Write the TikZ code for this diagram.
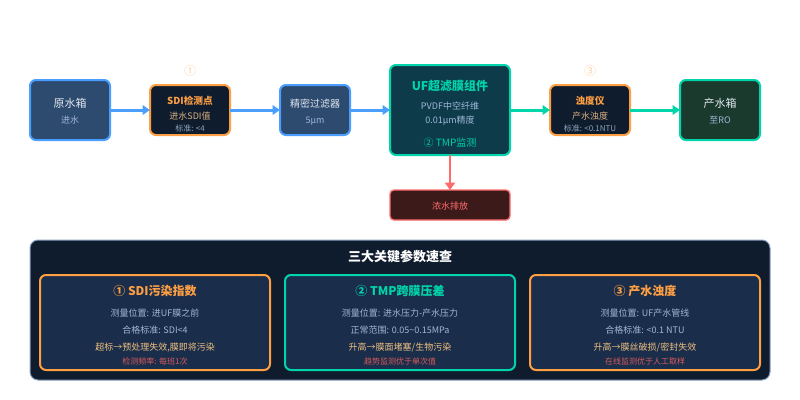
\documentclass[tikz,border=0pt]{standalone}
\usepackage{fontspec}
\setmainfont{Noto Sans CJK SC}
\usetikzlibrary{arrows.meta}
\definecolor{cblue}{HTML}{4A9EFF}
\definecolor{corange}{HTML}{FF9F43}
\definecolor{cgreen}{HTML}{00D4AA}
\definecolor{cred}{HTML}{FF6B6B}
\definecolor{fblue}{HTML}{2D4A6F}
\definecolor{fdark}{HTML}{0F1C2E}
\definecolor{fteal}{HTML}{0D3B4A}
\definecolor{fgreen}{HTML}{1A3A2E}
\definecolor{fred}{HTML}{3D1A1A}
\definecolor{fcard}{HTML}{1A2D4A}
\definecolor{tlight}{HTML}{E0E6EE}
\definecolor{tsoft}{HTML}{A0B8D8}
\definecolor{tgrey}{HTML}{8FA3BA}
\definecolor{twarm}{HTML}{F0C080}
\definecolor{tdim}{HTML}{D8B080}
\definecolor{tpanel}{HTML}{8AA0C0}
\tikzset{
  x=0.75pt,y=-0.75pt,
  boxn/.style={draw,rounded corners=4.5pt,line width=1.5pt,minimum width=#1*0.75pt,inner sep=0pt,outer sep=0pt},
  txt/.style={inner sep=0pt,text height=0.78em,text depth=0.1em,align=center},
  flow/.style={line width=2.25pt,-{Triangle[length=5.5pt,width=7pt]}},
  fs/.style={font=\fontsize{#1pt}{#1pt}\selectfont},
  fb/.style={font=\bfseries\fontsize{#1pt}{#1pt}\selectfont},
}
\begin{document}
\begin{tikzpicture}
\useasboundingbox[fill=white] (0,0) rectangle (800,400);
% flow nodes
\node[boxn=80,minimum height=45pt,fill=fblue,draw=cblue] (raw) at (70,110) {};
\node[boxn=80,minimum height=37.5pt,fill=fdark,draw=corange] (sdi) at (190,110) {};
\node[boxn=70,minimum height=37.5pt,fill=fblue,draw=cblue] (fine) at (315,110) {};
\node[boxn=120,minimum height=67.5pt,fill=fteal,draw=cgreen] (uf) at (450,110) {};
\node[boxn=80,minimum height=37.5pt,fill=fdark,draw=corange] (turb) at (590,110) {};
\node[boxn=80,minimum height=45pt,fill=fgreen,draw=cgreen] (prod) at (720,110) {};
\node[boxn=120,minimum height=22.5pt,line width=1pt,rounded corners=3pt,fill=fred,draw=cred] (conc) at (450,205) {};
% connectors
\draw[flow,cblue] (raw.east) -- (sdi.west);
\draw[flow,cblue] (sdi.east) -- (fine.west);
\draw[flow,cblue] (fine.east) -- (uf.west);
\draw[flow,cgreen] (uf.east) -- (turb.west);
\draw[flow,cgreen] (turb.east) -- (prod.west);
\draw[line width=1.5pt,cred,-{Triangle[length=5.5pt,width=7.5pt]}] (uf.south) -- (conc.north);
% flow texts
\node[txt,fs=8.25,text=tlight] (t1) at (70,103) {原水箱};
\node[txt,fs=6.75,text=tsoft] (t2) at (70,119) {进水};
\node[txt,fs=9,text=corange!45] (t3) at (190,71) {①};
\node[txt,fb=7.25,text=corange] (t4) at (190,100) {SDI检测点};
\node[txt,fs=6.75,text=tdim] (t5) at (190,115) {进水SDI值};
\node[txt,fs=6,text=tgrey] (t6) at (190,127) {标准: <4};
\node[txt,fs=7.5,text=tlight] (t7) at (315,103) {精密过滤器};
\node[txt,fs=6.75,text=tsoft] (t8) at (315,119) {5μm};
\node[txt,fb=9,text=cgreen] (t9) at (450,86) {UF超滤膜组件};
\node[txt,fs=6.75,text=tsoft] (t10) at (450,105) {PVDF中空纤维};
\node[txt,fs=6.75,text=tsoft] (t11) at (450,119) {0.01μm精度};
\node[txt,fs=7.5,text=cgreen] (t12) at (450,141.5) {② TMP监测};
\node[txt,fs=6.75,text=cred] (t13) at (450,205) {浓水排放};
\node[txt,fs=9,text=corange!45] (t14) at (590,71) {③};
\node[txt,fb=7.25,text=corange] (t15) at (590,100) {浊度仪};
\node[txt,fs=6.75,text=tdim] (t16) at (590,115) {产水浊度};
\node[txt,fs=6,text=tgrey] (t17) at (590,127) {标准: <0.1NTU};
\node[txt,fs=8.25,text=tlight] (t18) at (720,103) {产水箱};
\node[txt,fs=6.75,text=tsoft] (t19) at (720,119) {至RO};
% panel
\node[draw=tpanel,fill=fdark,line width=0.75pt,rounded corners=6pt,minimum width=555pt,minimum height=105pt,inner sep=0pt,outer sep=0pt] (panel) at (400,310) {};
\node[txt,fb=9.75,text=white] (ptitle) at (400,257) {三大关键参数速查};
\node[boxn=230,minimum height=71.25pt,fill=fcard,draw=corange] (c1) at (155,322.5) {};
\node[boxn=230,minimum height=71.25pt,fill=fcard,draw=cgreen] (c2) at (400,322.5) {};
\node[boxn=230,minimum height=71.25pt,fill=fcard,draw=corange] (c3) at (645,322.5) {};
% card 1
\node[txt,fb=9,text=corange] (a1) at (155,290.5) {① SDI污染指数};
\node[txt,fs=6.75,text=tsoft] (a2) at (155,311.5) {测量位置: 进UF膜之前};
\node[txt,fs=6.75,text=tsoft] (a3) at (155,328.5) {合格标准: SDI<4};
\node[txt,fs=6.75,text=twarm] (a4) at (155,345.5) {超标→预处理失效,膜即将污染};
\node[txt,fs=6,text=cred!85!black] (a5) at (155,360) {检测频率: 每班1次};
% card 2
\node[txt,fb=9,text=cgreen] (b1) at (400,290.5) {② TMP跨膜压差};
\node[txt,fs=6.75,text=tsoft] (b2) at (400,311.5) {测量位置: 进水压力-产水压力};
\node[txt,fs=6.75,text=tsoft] (b3) at (400,328.5) {正常范围: 0.05\textasciitilde 0.15MPa};
\node[txt,fs=6.75,text=twarm] (b4) at (400,345.5) {升高→膜面堵塞/生物污染};
\node[txt,fs=6,text=cred!85!black] (b5) at (400,360) {趋势监测优于单次值};
% card 3
\node[txt,fb=9,text=corange] (d1) at (645,290.5) {③ 产水浊度};
\node[txt,fs=6.75,text=tsoft] (d2) at (645,311.5) {测量位置: UF产水管线};
\node[txt,fs=6.75,text=tsoft] (d3) at (645,328.5) {合格标准: <0.1 NTU};
\node[txt,fs=6.75,text=twarm] (d4) at (645,345.5) {升高→膜丝破损/密封失效};
\node[txt,fs=6,text=cred!85!black] (d5) at (645,360) {在线监测优于人工取样};
\end{tikzpicture}
\end{document}
